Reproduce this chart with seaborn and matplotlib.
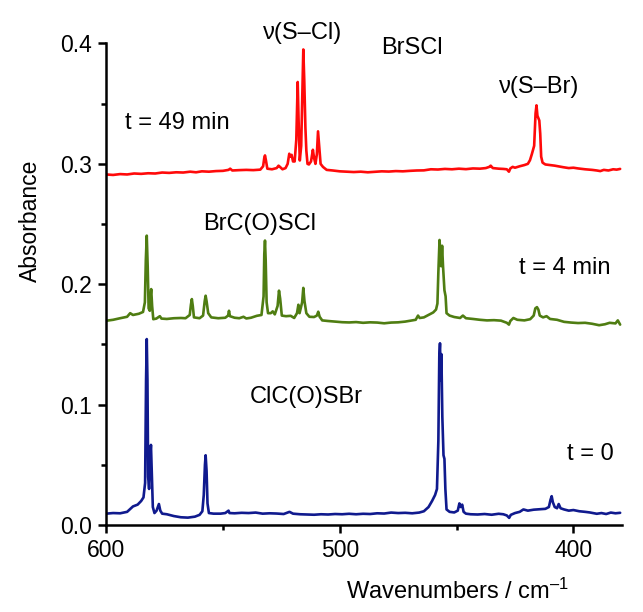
import numpy as np
import pandas as pd
import seaborn as sns
import matplotlib
matplotlib.use("Agg")
import matplotlib.pyplot as plt
from matplotlib.ticker import MultipleLocator

# ---- spectra: (wavenumber / cm-1, absorbance) ----
wn_t0 = [600.0, 597, 594, 591, 588.5, 586.5, 585, 584, 583.3, 582.9, 582.6, 582.3, 582.0, 581.6,
         581.2, 580.8, 580.4, 580.0, 579.3, 578.4, 577.4, 576.8, 576, 574, 571, 568, 565, 562, 560,
         558.8, 558.2, 557.7, 557.4, 557.0, 556.6, 556.0, 554, 551, 549, 547.6, 547.2, 545, 542, 539,
         536, 533, 530, 527, 524, 521.5, 520, 517, 514, 511, 508, 505, 502, 499, 496, 493, 490, 487,
         484, 481, 478, 475, 472, 469, 466, 464, 462, 460.5, 459.2, 458.4, 457.8, 457.4, 457.1, 456.8,
         456.5, 456.1, 455.6, 455.2, 454.8, 454.3, 453, 451, 449.5, 448.8, 448.2, 447.6, 447, 446, 444,
         441, 438, 435, 432, 430, 428.5, 427.5, 426.8, 425, 423, 421.4, 419.5, 417, 414, 412, 410.5,
         409.8, 409.3, 408.8, 408, 407, 406.3, 405.5, 404, 402, 400, 397.5, 395, 393, 390, 388, 386,
         384, 382, 380]
abs_t0 = [0.0095, 0.0100, 0.0098, 0.0110, 0.0155, 0.0170, 0.0200, 0.0230, 0.0350, 0.120, 0.1545,
          0.120, 0.040, 0.030, 0.055, 0.0666, 0.040, 0.015, 0.0100, 0.0120, 0.0175, 0.0120, 0.0095,
          0.0090, 0.0075, 0.0065, 0.0062, 0.0070, 0.0085, 0.0115, 0.025, 0.050, 0.058, 0.045, 0.018,
          0.0100, 0.0095, 0.0095, 0.0100, 0.0120, 0.0100, 0.0098, 0.0102, 0.0100, 0.0104, 0.0095,
          0.0098, 0.0096, 0.0092, 0.0110, 0.0095, 0.0090, 0.0088, 0.0086, 0.0090, 0.0088, 0.0092,
          0.0090, 0.0094, 0.0090, 0.0094, 0.0092, 0.0098, 0.0096, 0.0104, 0.0100, 0.0102, 0.0098,
          0.0104, 0.0115, 0.0150, 0.0200, 0.0250, 0.0300, 0.070, 0.140, 0.1510, 0.120, 0.1420, 0.090,
          0.058, 0.055, 0.030, 0.0130, 0.0110, 0.0105, 0.0120, 0.0180, 0.0150, 0.0170, 0.0110, 0.0095,
          0.0090, 0.0088, 0.0092, 0.0086, 0.0094, 0.0090, 0.0080, 0.0060, 0.0085, 0.0100, 0.0110,
          0.0130, 0.0120, 0.0128, 0.0132, 0.0135, 0.0150, 0.0210, 0.0240, 0.0190, 0.0150, 0.0140,
          0.0175, 0.0140, 0.0130, 0.0120, 0.0125, 0.0115, 0.0110, 0.0105, 0.0094, 0.0100, 0.0092,
          0.0104, 0.0098, 0.0102]

wn_t4 = [600, 597, 594, 591, 589.7, 588.5, 586, 584.2, 583.4, 583.0, 582.6, 582.2, 581.8, 581.3,
         581.0, 580.7, 580.3, 579.8, 578.5, 577, 576.3, 574, 571, 568, 566, 564.2, 563.7, 563.3,
         562.9, 562.4, 560, 558.5, 557.8, 557.4, 557.0, 556.3, 555, 552, 549, 547.8, 547.4, 547.0,
         545, 543, 541.2, 540, 538, 535.5, 533.5, 532.6, 532.3, 532.0, 531.7, 531.3, 530.7, 529.5,
         528.7, 527.8, 526.6, 526.0, 525.5, 524.8, 523, 521, 519.5, 518.3, 517.7, 517.2, 516.1, 515.6,
         515.1, 514.3, 513, 511, 509.8, 509.2, 508.6, 507.5, 505, 502, 499, 496, 493, 490, 487, 484,
         481, 478, 475, 472, 469, 467.5, 466.5, 465.8, 464, 461.5, 460, 458.8, 458.2, 457.8, 457.3,
         457.0, 456.6, 456.2, 455.8, 455.2, 454.7, 454.3, 453, 451, 450, 448.5, 447.3, 446, 443, 440,
         437, 434, 431, 428.5, 427.6, 427, 425.7, 424, 421, 418.5, 417, 416.3, 415.6, 415.0, 414.4,
         413, 411.5, 410, 407, 404, 401, 398, 395, 392, 389, 386.5, 384.5, 382, 381, 380]
abs_t4 = [0.1697, 0.1705, 0.1718, 0.1730, 0.1760, 0.1745, 0.1755, 0.1770, 0.1850, 0.220, 0.2404,
          0.215, 0.1800, 0.1780, 0.1900, 0.1960, 0.1820, 0.1710, 0.1715, 0.1735, 0.1715, 0.1712,
          0.1718, 0.1720, 0.1718, 0.1745, 0.1830, 0.1877, 0.1820, 0.1725, 0.1718, 0.1740, 0.1860,
          0.1905, 0.1860, 0.1760, 0.1725, 0.1718, 0.1722, 0.1740, 0.1780, 0.1735, 0.1722, 0.1718,
          0.1730, 0.1716, 0.1722, 0.1738, 0.1745, 0.1900, 0.2250, 0.2363, 0.2200, 0.1850, 0.1760,
          0.1760, 0.1775, 0.1750, 0.1820, 0.1947, 0.1880, 0.1740, 0.1735, 0.1738, 0.1720, 0.1760,
          0.1830, 0.1760, 0.1850, 0.1970, 0.1860, 0.1760, 0.1730, 0.1728, 0.1740, 0.1772, 0.1730,
          0.1700, 0.1695, 0.1690, 0.1685, 0.1683, 0.1686, 0.1680, 0.1684, 0.1682, 0.1676, 0.1682,
          0.1684, 0.1690, 0.1700, 0.1705, 0.1740, 0.1720, 0.1725, 0.1750, 0.1766, 0.1790, 0.1840,
          0.2100, 0.2368, 0.2280, 0.2150, 0.2320, 0.2150, 0.1950, 0.1900, 0.1760, 0.1740, 0.1728,
          0.1725, 0.1720, 0.1740, 0.1718, 0.1712, 0.1705, 0.1700, 0.1702, 0.1698, 0.1680, 0.1665,
          0.1695, 0.1720, 0.1705, 0.1700, 0.1710, 0.1740, 0.1800, 0.1810, 0.1790, 0.1740, 0.1725,
          0.1735, 0.1712, 0.1705, 0.1688, 0.1682, 0.1678, 0.1680, 0.1672, 0.1660, 0.1668, 0.1680,
          0.1675, 0.1700, 0.1665]

wn_t49 = [600, 597, 594, 591, 588, 585, 582, 579, 576, 573, 570, 567, 564, 561.5, 559, 556, 553,
          550, 547.6, 546.9, 546, 543, 540, 537, 534, 532.8, 532.3, 532.0, 531.6, 531.0, 529, 527,
          526.2, 525.6, 524.5, 523.2, 522.3, 521.6, 521.1, 520.6, 520.0, 519.3, 518.6, 518.0, 517.6,
          517.1, 516.5, 516.0, 515.6, 515.2, 514.7, 514.3, 513.8, 513.2, 512.3, 511.5, 511.0, 510.4,
          509.8, 509.3, 508.8, 508.2, 507.2, 505.6, 503, 500, 497, 494, 491, 488, 485, 482, 479, 476,
          473, 470, 467, 464, 461, 458, 455, 452, 449, 446, 443, 440, 437.5, 436, 435.4, 434.5, 432,
          430, 428.5, 427.6, 427, 426, 425, 423, 421, 419.5, 418.6, 417.8, 416.8, 416.2, 415.8, 415.4,
          415.0, 414.6, 414.2, 413.8, 413.2, 412, 410, 408, 406, 404.3, 402, 400, 398, 395, 392, 390,
          388.5, 387, 385, 383, 381.5, 380]
abs_t49 = [0.2912, 0.2908, 0.2915, 0.2912, 0.2920, 0.2917, 0.2922, 0.2920, 0.2928, 0.2925, 0.2930,
           0.2928, 0.2935, 0.2930, 0.2938, 0.2935, 0.2940, 0.2942, 0.2950, 0.2960, 0.2945, 0.2948,
           0.2950, 0.2948, 0.2952, 0.2980, 0.3050, 0.3070, 0.3030, 0.2960, 0.2955, 0.2965, 0.2985,
           0.2975, 0.2955, 0.2965, 0.3000, 0.3084, 0.3060, 0.3075, 0.3020, 0.3020, 0.3200, 0.3680,
           0.3350, 0.3028, 0.3150, 0.3600, 0.3950, 0.3700, 0.3300, 0.3110, 0.3000, 0.2995, 0.3020,
           0.3117, 0.3050, 0.3000, 0.3080, 0.3270, 0.3150, 0.3000, 0.2975, 0.2950, 0.2945, 0.2938,
           0.2935, 0.2932, 0.2935, 0.2930, 0.2934, 0.2938, 0.2936, 0.2940, 0.2938, 0.2942, 0.2945,
           0.2946, 0.2955, 0.2953, 0.2958, 0.2955, 0.2960, 0.2956, 0.2962, 0.2960, 0.2965, 0.2975,
           0.2985, 0.2965, 0.2960, 0.2958, 0.2955, 0.2935, 0.2962, 0.2975, 0.2968, 0.2980, 0.2990,
           0.3000, 0.3030, 0.3080, 0.3150, 0.3420, 0.3486, 0.3400, 0.3380, 0.3360, 0.3250, 0.3060,
           0.3010, 0.2995, 0.2990, 0.2985, 0.2978, 0.2972, 0.2965, 0.2968, 0.2962, 0.2955, 0.2950,
           0.2945, 0.2940, 0.2950, 0.2945, 0.2955, 0.2952, 0.2958]

series_labels = ["t = 0", "t = 4 min", "t = 49 min"]
series_colors = ["#101a8e", "#4f7d12", "#ff0a0a"]

frames = []
for lab, wn, ab in zip(series_labels, [wn_t0, wn_t4, wn_t49], [abs_t0, abs_t4, abs_t49]):
    frames.append(pd.DataFrame({"wn": wn, "absorbance": ab, "series": lab}))
df = pd.concat(frames, ignore_index=True)

sns.set_theme(style="ticks")
plt.rcParams["font.family"] = ["Liberation Sans", "DejaVu Sans"]
plt.rcParams["mathtext.fontset"] = "custom"
plt.rcParams["mathtext.rm"] = "Liberation Sans"
plt.rcParams["mathtext.it"] = "Liberation Sans"

FS_TICK = 16.5
FS_TEXT = 17
fig = plt.figure(figsize=(6.43, 6.12), dpi=100)
ax = fig.add_axes([0.165, 0.142, 0.802, 0.787])

sns.lineplot(data=df, x="wn", y="absorbance", hue="series", hue_order=series_labels,
             palette=series_colors, estimator=None, sort=False, linewidth=1.9,
             legend=False, ax=ax)

ax.set_xlim(600, 379.3)
ax.set_ylim(0, 0.4)
ax.xaxis.set_major_locator(MultipleLocator(100))
ax.xaxis.set_minor_locator(MultipleLocator(50))
ax.yaxis.set_major_locator(MultipleLocator(0.1))
ax.yaxis.set_minor_locator(MultipleLocator(0.05))
ax.set_yticks([0.0, 0.1, 0.2, 0.3, 0.4])
ax.set_yticklabels(["0.0", "0.1", "0.2", "0.3", "0.4"])

for side in ["top", "right"]:
    ax.spines[side].set_visible(False)
for side in ["left", "bottom"]:
    ax.spines[side].set_linewidth(1.8)
    ax.spines[side].set_color("black")

ax.tick_params(axis="both", which="major", direction="out", length=6, width=1.8,
               labelsize=FS_TICK, colors="black", pad=4)
ax.tick_params(axis="both", which="minor", direction="out", length=3.5, width=1.8, colors="black")

ax.set_xlabel("Wavenumbers / cm$^{\u2013 1}$", fontsize=FS_TEXT, color="black")
ax.set_ylabel("Absorbance", fontsize=16.5, color="black")
ax.xaxis.label.set_va("baseline")
ax.xaxis.set_label_coords(0.681, -0.154)
ax.yaxis.set_label_coords(-0.125, 0.631)

# annotations
txt = dict(fontsize=FS_TEXT, color="black", clip_on=False)
ax.text(591.9, 0.3336, "t = 49 min", ha="left", va="center", **txt)
ax.text(515.7, 0.4085, "\u03bd(S\u2013Cl)", ha="center", va="center", **txt)
ax.text(469.1, 0.396, "BrSCl", ha="center", va="center", **txt)
ax.text(414.7, 0.3636, "\u03bd(S\u2013Br)", ha="center", va="center", **txt)
ax.text(534.1, 0.2504, "BrC(O)SCl", ha="center", va="center", **txt)
ax.text(403.6, 0.2138, "t = 4 min", ha="center", va="center", **txt)
ax.text(514.4, 0.1065, "ClC(O)SBr", ha="center", va="center", **txt)
ax.text(392.9, 0.059, "t = 0", ha="center", va="center", **txt)

fig.savefig("out.png", dpi=100, facecolor="white")
